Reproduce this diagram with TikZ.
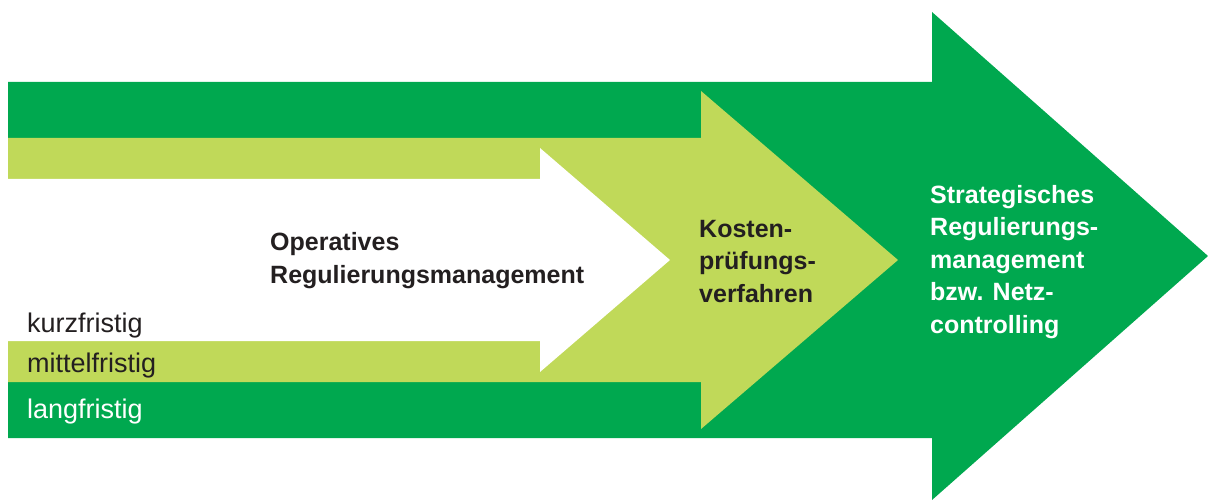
\documentclass[tikz,border=0pt]{standalone}
\usepackage{fontspec}
\setmainfont{Liberation Sans}
\definecolor{dkgreen}{RGB}{0,168,79}
\definecolor{ltgreen}{RGB}{192,217,89}
\definecolor{ink}{RGB}{35,31,32}
\begin{document}
\begin{tikzpicture}[x = 1pt, y = -1pt,
    lbl/.style = {anchor = base west, inner sep = 0pt, font = \fontsize{27}{32}\selectfont},
    head/.style = {anchor = base west, inner sep = 0pt, align = left, font = \fontsize{25}{32.5}\selectfont\bfseries}]
      \useasboundingbox (0,0) rectangle (1208,500);
      \fill [dkgreen] (8,82) -- (932,82) -- (932,12) -- (1208,256) -- (932,500) -- (932,438) -- (8,438) -- cycle;
      \fill [ltgreen] (8,138) -- (701,138) -- (701,91) -- (898,260) -- (701,429) -- (701,382) -- (8,382) -- cycle;
      \fill [white] (8,179) -- (540,179) -- (540,148) -- (670,260) -- (540,372) -- (540,341) -- (8,341) -- cycle;
      % anchored at the baseline of the last line
      \node [head, text = ink] (operativ) at (270,283) {Operatives\\Regulierungsmanagement};
      \node [head, text = ink] (kosten) at (699,302) {Kosten-\\prüfungs-\\verfahren};
      \node [head, text = white] (strategie) at (930,333) {Strategisches\\Regulierungs-\\management\\bzw. Netz-\\controlling};
      \node [lbl, text = ink] (kurz) at (27,332) {kurzfristig};
      \node [lbl, text = ink] (mittel) at (27,372) {mittelfristig};
      \node [lbl, text = white] (lang) at (27,418) {langfristig};
    \end{tikzpicture}
\end{document}
